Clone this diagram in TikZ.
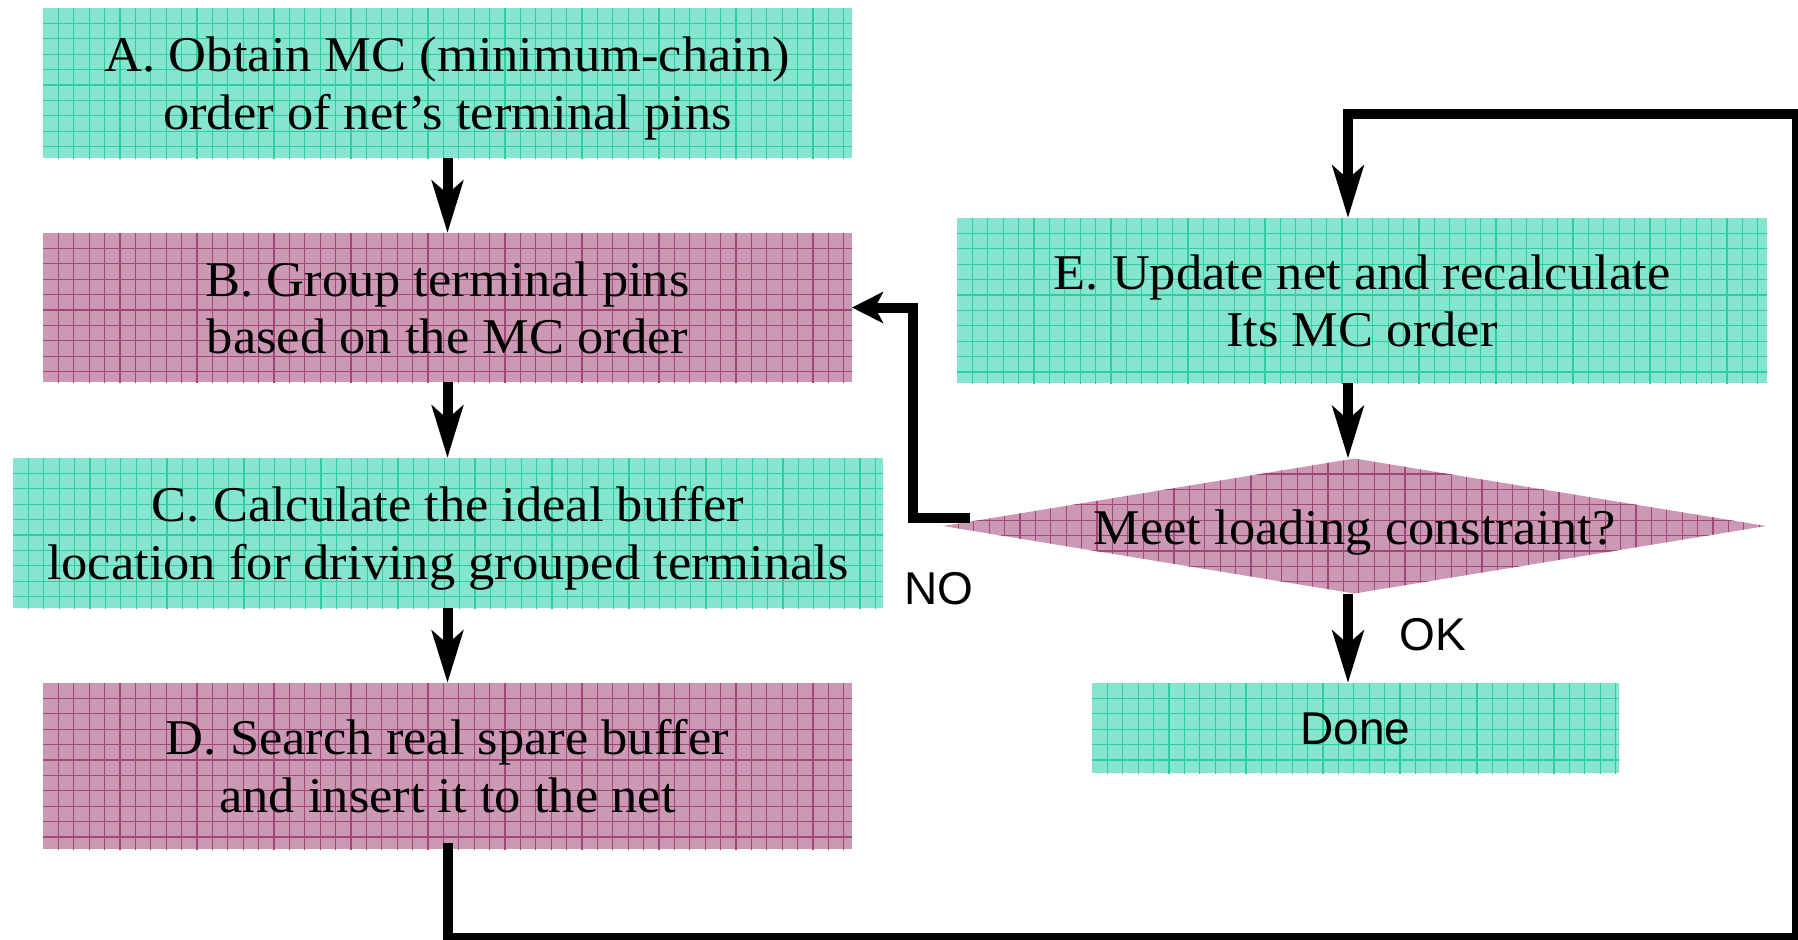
\documentclass[tikz,border=0pt]{standalone}
\usepackage{fontspec}
\setmainfont{Liberation Serif}[FakeStretch=1.05]
\newfontfamily\labelsans{Liberation Sans}
\usetikzlibrary{arrows.meta,shapes.geometric,calc}

\definecolor{mint}{RGB}{134,229,207}
\definecolor{mintline}{RGB}{46,207,156}
\definecolor{mauve}{RGB}{204,153,181}
\definecolor{mauveline}{RGB}{163,72,118}

\pgfdeclarelayer{background}
\pgfsetlayers{background,main}

% taller first line so two-line texts sit a little low in their boxes
\newcommand\tallstrut{\rule{0pt}{26.2pt}}

\tikzset{
  gridline/.style={line width=0.6pt},
  stepbox/.style={rectangle, inner sep=0pt, outer sep=0pt,
                  font=\fontsize{25}{28.8}\selectfont, align=center},
  flow/.style={line width=5pt, -{Stealth[length=26pt,width=15.5pt,inset=6.5pt]}},
  sideflow/.style={line width=5pt, -{Stealth[length=15.5pt,width=15.5pt,inset=4pt]}},
  answer/.style={font=\labelsans\fontsize{23}{27}\selectfont, anchor=base, inner sep=0pt},
}

% squared-paper fill of a rectangular node: #1 node, #2 paper, #3 rules
\newcommand\paperbox[3]{%
  \fill[#2] (#1.north west) rectangle (#1.south east);
  \begin{scope}
    \clip (#1.north west) rectangle (#1.south east);
    \foreach \k in {1,...,58}
      \draw[#3, gridline] ($(#1.north west)+(15.4*\k,0)$) -- ++(0,200);
    \foreach \k in {1,...,12}
      \draw[#3, gridline] ($(#1.north west)+(0,15.4*\k)$) -- ++(900,0);
  \end{scope}}

% the same paper inside a diamond node
\newcommand\paperdiamond[3]{%
  \fill[#2] (#1.west) -- (#1.north) -- (#1.east) -- (#1.south) -- cycle;
  \begin{scope}
    \clip (#1.west) -- (#1.north) -- (#1.east) -- (#1.south) -- cycle;
    \foreach \k in {1,...,58}
      \draw[#3, gridline] ($(#1.west |- #1.north)+(15.4*\k,0)$) -- ++(0,200);
    \foreach \k in {1,...,12}
      \draw[#3, gridline] ($(#1.west |- #1.north)+(0,15.4*\k)$) -- ++(900,0);
  \end{scope}}

\begin{document}
\begin{tikzpicture}[x=0.5pt, y=-0.5pt]
\useasboundingbox (0,0) rectangle (1798,939);

% process steps, left column
\node[stepbox, minimum width=404.5pt, minimum height=75pt] (A) at (447.5,83)
  {\tallstrut A. Obtain MC (minimum-chain)\\order of net’s terminal pins\strut};
\node[stepbox, minimum width=404.5pt, minimum height=74.5pt] (B) at (447.5,307.5)
  {\tallstrut B. Group terminal pins\\based on the MC order\strut};
\node[stepbox, minimum width=435pt, minimum height=75pt] (C) at (448,533)
  {\tallstrut C. Calculate the ideal buffer\\location for driving grouped terminals\strut};
\node[stepbox, minimum width=404.5pt, minimum height=83pt] (D) at (447.5,766)
  {\tallstrut D. Search real spare buffer\\and insert it to the net\strut};

% right column: update, check, finish
\node[stepbox, minimum width=405pt, minimum height=82.5pt] (E) at (1362,300.5)
  {\tallstrut E. Update net and recalculate\\Its MC order\strut};
\node[diamond, aspect=6.1, inner sep=0pt, outer sep=0pt,
      minimum width=411.5pt, minimum height=67.5pt,
      font=\fontsize{25}{28.8}\selectfont, text height=18pt, text depth=0pt] (Q) at (1354.5,526)
  {Meet loading constraint?};
\node[rectangle, inner sep=0pt, outer sep=0pt, minimum width=263.5pt, minimum height=45pt,
      font=\labelsans\fontsize{23}{27}\selectfont, text height=16.7pt, text depth=0pt] (Z) at (1355.5,728)
  {Done};

% paper fills behind the texts
\begin{pgfonlayer}{background}
  \paperbox{A}{mint}{mintline}
  \paperbox{B}{mauve}{mauveline}
  \paperbox{C}{mint}{mintline}
  \paperbox{D}{mauve}{mauveline}
  \paperbox{E}{mint}{mintline}
  \paperbox{Z}{mint}{mintline}
  \paperdiamond{Q}{mauve}{mauveline}
\end{pgfonlayer}

% connectors
\coordinate (col) at (1348,0);
\coordinate (loopbot) at (1797,938);
\coordinate (looptop) at (1348,113.8);
\coordinate (nostart) at ($(Q.west)+(27,-8)$);

\draw[flow] (A.south) -- (B.north);
\draw[flow] (B.south) -- (B.south |- C.north);
\draw[flow] (B.south |- C.south) -- (D.north);
\draw[flow] (E.south -| col) -- (Q.north -| col);
\draw[flow] (Q.south -| col) -- (Z.north -| col);
\draw[flow] ($(D.south)+(0,-6)$) |- (loopbot) |- (looptop) -- (E.north -| col);
\draw[sideflow] (nostart) -| ($(B.east)+(60.5,0)$) -- (B.east);

% branch labels
\node[answer] (no) at (939,604) {NO};
\node[answer] (ok) at (1433,650) {OK};
\end{tikzpicture}
\end{document}
